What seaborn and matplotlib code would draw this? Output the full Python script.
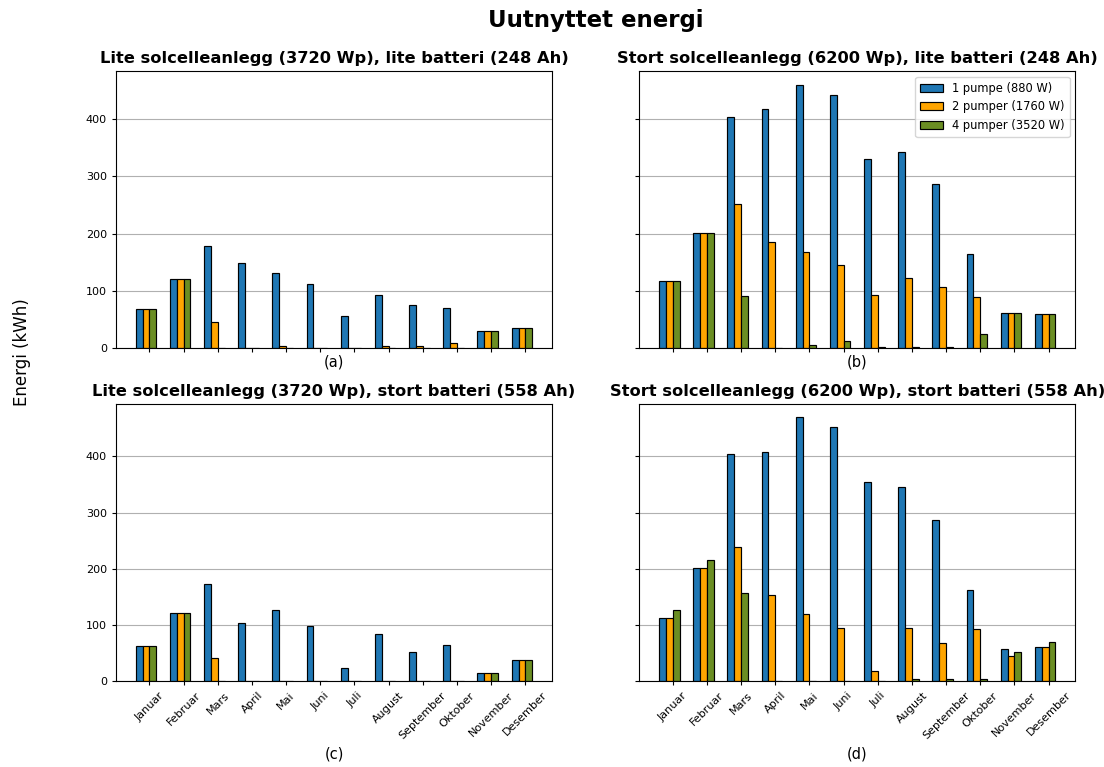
import numpy as np
import pandas as pd
import matplotlib
matplotlib.use("Agg")
import matplotlib.pyplot as plt
import seaborn as sns

months = ["Januar", "Februar", "Mars", "April", "Mai", "Juni", "Juli",
          "August", "September", "Oktober", "November", "Desember"]
series = ["1 pumpe (880 W)", "2 pumper (1760 W)", "4 pumper (3520 W)"]
colors = ["#1f77b4", "orange", "olivedrab"]

titles = [
    "Lite solcelleanlegg (3720 Wp), lite batteri (248 Ah)",
    "Stort solcelleanlegg (6200 Wp), lite batteri (248 Ah)",
    "Lite solcelleanlegg (3720 Wp), stort batteri (558 Ah)",
    "Stort solcelleanlegg (6200 Wp), stort batteri (558 Ah)",
]
panel_labels = ["(a)", "(b)", "(c)", "(d)"]

# (a) small PV, small battery
a_1 = [68, 121, 178, 149, 132, 112, 57, 94, 75, 70, 30, 36]
a_2 = [68, 121, 46, 0, 5, 0, 0, 5, 4, 10, 30, 36]
a_4 = [68, 121, 0, 0, 0, 0, 0, 0, 0, 0, 30, 36]

# (b) large PV, small battery
b_1 = [118, 202, 404, 418, 460, 441, 330, 342, 287, 164, 62, 60]
b_2 = [118, 202, 251, 186, 168, 146, 94, 123, 108, 89, 62, 60]
b_4 = [118, 202, 91, 0, 6, 13, 2, 3, 3, 26, 62, 60]

# (c) small PV, large battery
c_1 = [63, 121, 172, 104, 127, 98, 24, 84, 52, 65, 14, 37]
c_2 = [63, 121, 41, 0, 0, 0, 0, 0, 0, 0, 15, 37]
c_4 = [63, 121, 0, 0, 0, 0, 0, 0, 0, 0, 14, 37]

# (d) large PV, large battery
d_1 = [112, 202, 404, 408, 470, 453, 355, 345, 287, 163, 58, 61]
d_2 = [112, 202, 238, 154, 120, 95, 18, 95, 68, 93, 44, 61]
d_4 = [127, 215, 157, 0, 0, 0, 0, 4, 3, 4, 52, 70]

panels = [(a_1, a_2, a_4), (b_1, b_2, b_4), (c_1, c_2, c_4), (d_1, d_2, d_4)]
yticks = [0, 100, 200, 300, 400]


def long_frame(values):
    rows = []
    for name, vals in zip(series, values):
        for i, v in enumerate(vals):
            # each month group sits a little left of its tick
            rows.append({"pos": i - 0.1, "Måned": months[i], "Serie": name, "Energi": v})
    return pd.DataFrame(rows)


plt.rcParams["xtick.labelsize"] = 8
plt.rcParams["ytick.labelsize"] = 8
plt.rcParams["xtick.major.size"] = 3
plt.rcParams["ytick.major.size"] = 3

fig, axes = plt.subplots(2, 2, figsize=(11.04, 7.67), dpi=100, sharey="row")
fig.subplots_adjust(left=0.105, right=0.974, top=0.907, bottom=0.112,
                    wspace=0.2, hspace=0.2)

for k, ax in enumerate(axes.flat):
    df = long_frame(panels[k])
    sns.barplot(data=df, x="pos", y="Energi", hue="Serie", hue_order=series,
                palette=colors, native_scale=True, width=0.6, errorbar=None,
                edgecolor="black", linewidth=0.85, saturation=1, ax=ax)
    ax.set_title(titles[k], fontsize=11.7, fontweight="bold")
    ax.set_xlabel(panel_labels[k], fontsize=10.5, labelpad=1 if k < 2 else 4)
    ax.set_ylabel("")
    ax.grid(axis="y", color="#b0b0b0", linewidth=0.8)
    ax.set_axisbelow(True)
    ax.set_xticks(np.arange(len(months)))
    ax.set_xticklabels(months)
    ax.set_yticks(yticks)
    ax.relim()
    ax.autoscale_view()
    ax.set_xlim(-0.4 - 0.58, 11.2 + 0.58)
    leg = ax.get_legend()
    if k == 1:
        ax.legend(loc="upper right", fontsize=8.3)
    elif leg is not None:
        leg.remove()

# month names only on the lower row
for ax in axes[0]:
    ax.tick_params(axis="x", labelbottom=False)
for ax in axes[1]:
    ax.tick_params(axis="x", labelrotation=45)

fig.suptitle("Uutnyttet energi", fontsize=16.5, fontweight="bold",
             x=0.5394, y=0.988)
fig.supylabel("Energi (kWh)", fontsize=12, x=0.012, y=0.541)

fig.savefig("out.png", dpi=100)
